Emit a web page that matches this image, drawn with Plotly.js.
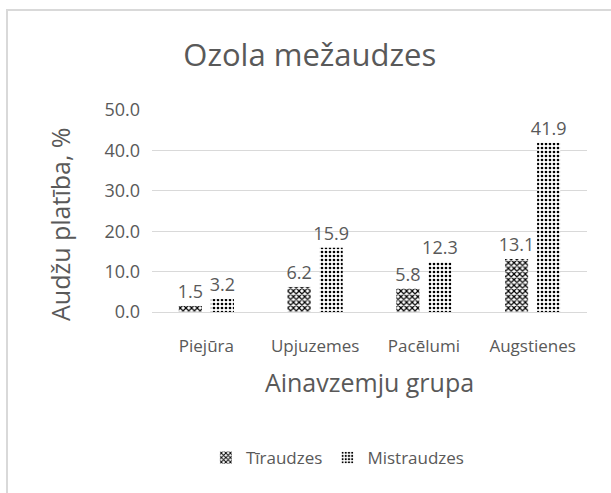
<!DOCTYPE html>
<html>
<head>
<meta charset="utf-8">
<script src="https://cdn.plot.ly/plotly-3.0.1.min.js"></script>
<style>
  html, body { margin: 0; padding: 0; background: #fff; }
  #wrap { position: relative; width: 611px; height: 493px; overflow: hidden; }
  #frame { position: absolute; left: 6px; top: 9px; width: 700px; height: 600px;
           border-left: 2px solid #d9d9d9; border-top: 2px solid #d9d9d9; pointer-events: none; }
  #chart { position: absolute; left: 0; top: 0; width: 611px; height: 493px; }
</style>
</head>
<body>
<div id="wrap">
  <div id="chart"></div>
  <div id="frame"></div>
</div>
<script>
const categories = ["Piejūra", "Upjuzemes", "Pacēlumi", "Augstienes"];
const tiraudzes = [1.5, 6.2, 5.8, 13.1];
const mistraudzes = [3.2, 15.9, 12.3, 41.9];
const seriesNames = ["Tīraudzes", "Mistraudzes"];
const yTicks = [0, 10, 20, 30, 40, 50];

const FONT = "Open Sans, sans-serif";
const GRAY = "#595959";

const traces = [
  {
    type: "bar", name: seriesNames[0], x: categories, y: tiraudzes,
    text: tiraudzes.map(v => v.toFixed(1)), textposition: "outside", constraintext: "none",
    textfont: {family: FONT, size: 18, color: GRAY}, cliponaxis: false,
    marker: {color: "white", line: {width: 0},
             pattern: {shape: "x", size: 4, solidity: 0.5, fgcolor: "black", bgcolor: "white", fillmode: "replace"}}
  },
  {
    type: "bar", name: seriesNames[1], x: categories, y: mistraudzes,
    text: mistraudzes.map(v => v.toFixed(1)), textposition: "outside", constraintext: "none",
    textfont: {family: FONT, size: 18, color: GRAY}, cliponaxis: false,
    marker: {color: "white", line: {width: 0},
             pattern: {shape: ".", size: 4, solidity: 0.35, fgcolor: "black", bgcolor: "white", fillmode: "replace"}}
  }
];

const layout = {
  width: 611, height: 493,
  margin: {l: 152, r: 24, t: 110, b: 181},
  paper_bgcolor: "white", plot_bgcolor: "white",
  font: {family: FONT, color: GRAY},
  title: {text: "Ozola mežaudzes", font: {family: FONT, size: 31, color: GRAY},
          x: 0.507, xref: "container", xanchor: "center",
          y: 0.888, yref: "container", yanchor: "middle"},
  bargap: 0.41, bargroupgap: 0.28,
  showlegend: true,
  legend: {orientation: "h", xref: "container", yref: "container", x: 0.553, xanchor: "center",
           y: 0.071, yanchor: "middle", font: {family: FONT, size: 17, color: GRAY},
           itemwidth: 30, traceorder: "normal"},
  xaxis: {
    showgrid: false, showline: false, zeroline: false, ticks: "",
    tickfont: {family: FONT, size: 17, color: GRAY}, ticklabelstandoff: 22,
    title: {text: "Ainavzemju grupa", font: {family: FONT, size: 25, color: GRAY}, standoff: 18}
  },
  yaxis: {
    range: [0, 50], tickvals: yTicks, ticktext: yTicks.map(v => v.toFixed(1)),
    showgrid: true, gridcolor: "#d9d9d9", gridwidth: 1,
    zeroline: true, zerolinecolor: "#d9d9d9", zerolinewidth: 1, showline: false, ticks: "",
    tickfont: {family: FONT, size: 18, color: GRAY}, ticklabelstandoff: 11
  },
  annotations: [{
    text: "Audžu platība, %", textangle: -90, showarrow: false,
    xref: "paper", yref: "paper", x: (60 - 152) / 435, y: (312 - 224) / 202,
    xanchor: "center", yanchor: "middle",
    font: {family: FONT, size: 25, color: GRAY}
  }]
};

Plotly.newPlot("chart", traces, layout, {displayModeBar: false, staticPlot: true});
</script>
</body>
</html>
